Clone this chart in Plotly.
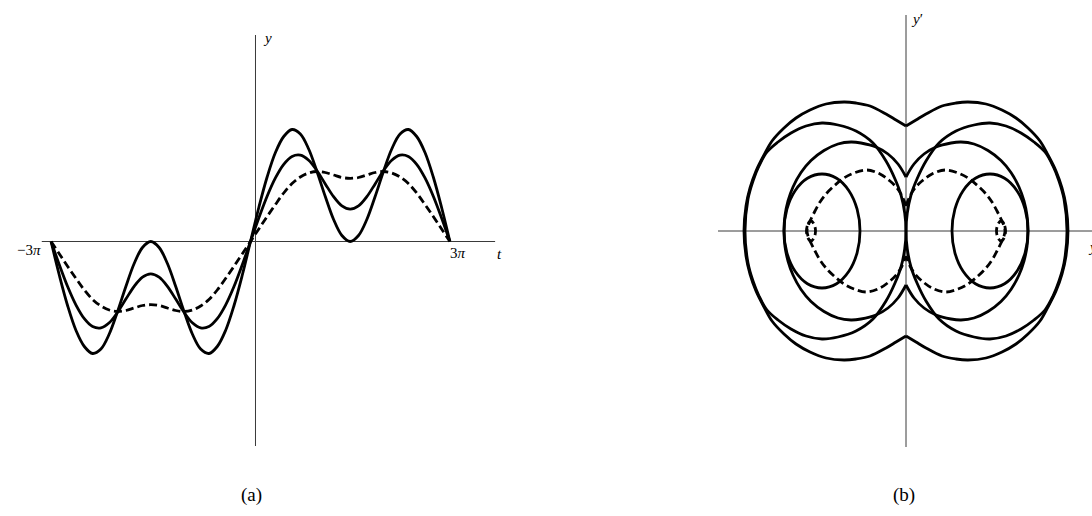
import plotly.graph_objects as go

# ---------------- Panel (a): y(t) for three solutions, t in units of pi ----------------
t_over_pi = [-3.0, -2.875, -2.75, -2.625, -2.5, -2.375, -2.25, -2.125, -2.0,
             -1.875, -1.75, -1.625, -1.5, -1.375, -1.25, -1.125, -1.0,
             -0.875, -0.75, -0.625, -0.5, -0.375, -0.25, -0.125, 0.0,
             0.125, 0.25, 0.375, 0.5, 0.625, 0.75, 0.875, 1.0,
             1.125, 1.25, 1.375, 1.5, 1.625, 1.75, 1.875, 2.0,
             2.125, 2.25, 2.375, 2.5, 2.625, 2.75, 2.875, 3.0]

y_large = [0, -0.34, -0.645, -0.89, -1.05, -1.12, -1.075, -0.925, -0.70,
           -0.45, -0.22, -0.06, 0.0, -0.06, -0.22, -0.45, -0.70,
           -0.925, -1.075, -1.12, -1.05, -0.89, -0.645, -0.34, 0,
           0.34, 0.645, 0.89, 1.05, 1.12, 1.075, 0.925, 0.70,
           0.45, 0.22, 0.06, 0.0, 0.06, 0.22, 0.45, 0.70,
           0.925, 1.075, 1.12, 1.05, 0.89, 0.645, 0.34, 0]

y_middle = [0, -0.235, -0.453, -0.636, -0.772, -0.851, -0.864, -0.813, -0.708,
            -0.576, -0.448, -0.356, -0.323, -0.356, -0.448, -0.576, -0.708,
            -0.813, -0.864, -0.851, -0.772, -0.636, -0.453, -0.235, 0,
            0.235, 0.453, 0.636, 0.772, 0.851, 0.864, 0.813, 0.708,
            0.576, 0.448, 0.356, 0.323, 0.356, 0.448, 0.576, 0.708,
            0.813, 0.864, 0.851, 0.772, 0.636, 0.453, 0.235, 0]

y_dashed = [0, -0.125, -0.25, -0.37, -0.485, -0.58, -0.645, -0.685, -0.70,
            -0.69, -0.665, -0.64, -0.632, -0.64, -0.665, -0.69, -0.70,
            -0.685, -0.645, -0.58, -0.485, -0.37, -0.25, -0.125, 0,
            0.125, 0.25, 0.37, 0.485, 0.58, 0.645, 0.685, 0.70,
            0.69, 0.665, 0.64, 0.632, 0.64, 0.665, 0.69, 0.70,
            0.685, 0.645, 0.58, 0.485, 0.37, 0.25, 0.125, 0]

# ---------------- Panel (b): phase curves (y, y'), right-hand lobes ----------------
# large solution, outer arc (t from 0 to 3*pi)
outer_y = [0, 0.10, 0.20, 0.36, 0.50, 0.62, 0.80, 0.96, 1.10, 1.22, 1.34, 1.42, 1.50, 1.56, 1.60, 1.62,
           1.60, 1.56, 1.50, 1.42, 1.34, 1.22, 1.10, 0.96, 0.80, 0.62, 0.50, 0.36, 0.20, 0.10, 0]
outer_dy = [1.05, 1.11, 1.17, 1.25, 1.28, 1.29, 1.27, 1.21, 1.13, 1.03, 0.90, 0.76, 0.60, 0.43, 0.25, 0,
            -0.25, -0.43, -0.60, -0.76, -0.90, -1.03, -1.13, -1.21, -1.27, -1.29, -1.28, -1.25, -1.17, -1.11, -1.05]

# large solution, inner loop through the origin
inner_y = [0, 0.013, 0.05, 0.11, 0.20, 0.33, 0.50, 0.68, 0.84, 1.00, 1.15, 1.28, 1.39, 1.47, 1.53, 1.58, 1.61,
           1.58, 1.53, 1.47, 1.39, 1.28, 1.15, 1.00, 0.84, 0.68, 0.50, 0.33, 0.20, 0.11, 0.05, 0.013, 0]
inner_dy = [0, 0.18, 0.36, 0.52, 0.70, 0.88, 1.00, 1.06, 1.08, 1.05, 0.98, 0.89, 0.79, 0.65, 0.50, 0.32, 0,
            -0.32, -0.50, -0.65, -0.79, -0.89, -0.98, -1.05, -1.08, -1.06, -1.00, -0.88, -0.70, -0.52, -0.36, -0.18, 0]

# middle solution, outer arc
mid_y = [0, 0.08, 0.18, 0.30, 0.45, 0.55, 0.68, 0.82, 0.95, 1.05, 1.13, 1.18, 1.21, 1.22,
         1.21, 1.18, 1.13, 1.05, 0.95, 0.82, 0.68, 0.55, 0.45, 0.30, 0.18, 0.08, 0]
mid_dy = [0.54, 0.67, 0.77, 0.84, 0.88, 0.89, 0.87, 0.805, 0.705, 0.585, 0.44, 0.30, 0.155, 0,
          -0.155, -0.30, -0.44, -0.585, -0.705, -0.805, -0.87, -0.89, -0.88, -0.84, -0.77, -0.67, -0.54]

# middle solution, closed inner loop
mid_loop_y = [1.22, 1.191, 1.109, 0.986, 0.84, 0.694, 0.571, 0.489, 0.46,
              0.489, 0.571, 0.694, 0.84, 0.986, 1.109, 1.191, 1.22]
mid_loop_dy = [0, 0.218, 0.403, 0.527, 0.57, 0.527, 0.403, 0.218, 0,
               -0.218, -0.403, -0.527, -0.57, -0.527, -0.403, -0.218, 0]

# dashed solution, outer arc
dash_y = [0, 0.04, 0.09, 0.16, 0.26, 0.39, 0.52, 0.62, 0.72, 0.80, 0.86, 0.91, 0.95, 0.98, 0.99,
          0.98, 0.95, 0.91, 0.86, 0.80, 0.72, 0.62, 0.52, 0.39, 0.26, 0.16, 0.09, 0.04, 0]
dash_dy = [0.25, 0.35, 0.43, 0.50, 0.57, 0.61, 0.58, 0.53, 0.45, 0.37, 0.29, 0.20, 0.12, 0.05, 0,
           -0.05, -0.12, -0.20, -0.29, -0.37, -0.45, -0.53, -0.58, -0.61, -0.57, -0.50, -0.43, -0.35, -0.25]

# dashed solution, small inner loop
dash_loop_y = [0.995, 0.98, 0.95, 0.92, 0.905, 0.92, 0.95, 0.98, 0.995]
dash_loop_dy = [0, 0.07, 0.10, 0.07, 0, -0.07, -0.10, -0.07, 0]

BLACK = "#000000"
AXIS = "#3a3a3a"
SOLID = dict(color=BLACK, width=2.8, shape="spline")
DASHED = dict(color=BLACK, width=2.8, shape="spline", dash="8px,4px")

fig = go.Figure()

# panel (a) curves
for ys, style in ((y_large, SOLID), (y_middle, SOLID), (y_dashed, DASHED)):
    fig.add_trace(go.Scatter(x=t_over_pi, y=ys, mode="lines", line=style,
                             xaxis="x", yaxis="y", hoverinfo="skip"))

# panel (b) curves: each right lobe and its mirror image y -> -y
phase_curves = [
    (outer_y, outer_dy, SOLID),
    (inner_y, inner_dy, SOLID),
    (mid_y, mid_dy, SOLID),
    (mid_loop_y, mid_loop_dy, SOLID),
    (dash_y, dash_dy, DASHED),
    (dash_loop_y, dash_loop_dy, DASHED),
]
for ys, dys, style in phase_curves:
    for sign in (1, -1):
        fig.add_trace(go.Scatter(x=[sign * v for v in ys], y=dys, mode="lines", line=style,
                                 xaxis="x2", yaxis="y2", hoverinfo="skip"))

# coordinate axes drawn as thin lines
axis_lines = [
    dict(xref="x", yref="y", x0=-3.14, x1=3.68, y0=0, y1=0),
    dict(xref="x", yref="y", x0=0.075, x1=0.075, y0=-2.045, y1=2.065),
    dict(xref="x2", yref="y2", x0=-1.88, x1=1.95, y0=0, y1=0),
    dict(xref="x2", yref="y2", x0=0, x1=0, y0=-2.16, y1=2.16),
]
shapes = [dict(type="line", layer="below", line=dict(color=AXIS, width=1), **s) for s in axis_lines]

W, H = 1092, 516


def px(x, y):
    return dict(xref="paper", yref="paper", x=x / W, y=1 - y / H)


label_font = dict(family="Liberation Serif, DejaVu Serif, serif", size=15, color=BLACK)
cap_font = dict(family="Liberation Serif, DejaVu Serif, serif", size=19, color=BLACK)

annotations = [
    dict(text="<i>y</i>", xanchor="left", yanchor="middle", font=label_font, **px(261, 38)),
    dict(text="<i>t</i>", xanchor="center", yanchor="middle", font=label_font, **px(499, 254)),
    dict(text="\u22123<i>\u03c0</i>", xanchor="right", yanchor="middle", font=label_font, **px(43, 250)),
    dict(text="3<i>\u03c0</i>", xanchor="center", yanchor="middle", font=label_font, **px(458, 253)),
    dict(text="<i>y</i>\u2032", xanchor="left", yanchor="middle", font=label_font, **px(909, 19)),
    dict(text="<i>y</i>", xanchor="left", yanchor="middle", font=label_font, **px(1086, 247)),
    dict(text="(a)", xanchor="center", yanchor="middle", font=cap_font, **px(251, 495)),
    dict(text="(b)", xanchor="center", yanchor="middle", font=cap_font, **px(904, 495)),
]
for a in annotations:
    a["showarrow"] = False

hidden = dict(visible=False, showgrid=False, zeroline=False, fixedrange=True)

fig.update_layout(
    width=W, height=H,
    margin=dict(l=0, r=0, t=0, b=0),
    paper_bgcolor="white", plot_bgcolor="white",
    showlegend=False,
    xaxis=dict(domain=[0, 0.5], range=[-3.7686, 4.4456], **hidden),
    yaxis=dict(domain=[0, 1], range=[-2.745, 2.415], **hidden),
    xaxis2=dict(domain=[0.5, 1], range=[-3.60, 1.86], **hidden),
    yaxis2=dict(domain=[0, 1], range=[-2.85, 2.31], anchor="x2", **hidden),
    shapes=shapes,
    annotations=annotations,
)

fig.write_html("out.html", config=dict(displayModeBar=False))
